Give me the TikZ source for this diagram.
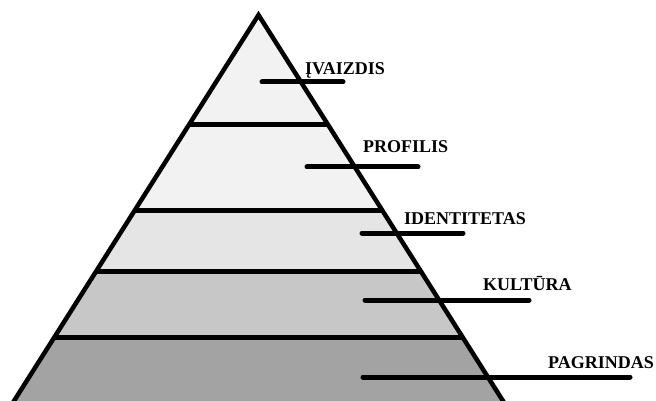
\documentclass[tikz,border=0pt]{standalone}
\usepackage{fontspec}
\setmainfont{Liberation Serif}
\begin{document}
\begin{tikzpicture}[x=1pt,y=-1pt,
  band/.style={draw=none},
  divider/.style={line width=5pt},
  edge/.style={line width=4.5pt,line join=miter},
  pointer/.style={line width=5pt,line cap=round},
  lbl/.style={anchor=base west,inner sep=0pt,font=\fontsize{18}{20}\selectfont\bfseries}]
\useasboundingbox (0,0) rectangle (656,401);
\clip (0,0) rectangle (656,401);
% layer fills, top to bottom
\fill[band,fill=black!5] (258.5,15) -- (328.2,125) -- (188.8,125) -- cycle;
\fill[band,fill=black!5] (188.8,125) -- (328.2,125) -- (382.0,210) -- (135.0,210) -- cycle;
\fill[band,fill=black!10] (135.0,210) -- (382.0,210) -- (420.7,271) -- (96.3,271) -- cycle;
\fill[band,fill=black!22] (96.3,271) -- (420.7,271) -- (462.5,337) -- (54.5,337) -- cycle;
\fill[band,fill=black!36] (54.5,337) -- (462.5,337) -- (504.3,403) -- (12.7,403) -- cycle;
% layer dividers
\draw[divider] (188.8,125) -- (328.2,125);
\draw[divider] (135.0,210) -- (382.0,210);
\draw[divider] (96.3,271) -- (420.7,271);
\draw[divider] (54.5,337) -- (462.5,337);
% outline
\draw[edge] (12.7,403) -- (258.5,15) -- (504.3,403);
% labels
\node[lbl] (l1) at (305,75) {ĮVAIZDIS};
\node[lbl] (l2) at (363,153) {PROFILIS};
\node[lbl] (l3) at (404,224) {IDENTITETAS};
\node[lbl] (l4) at (483,290) {KULTŪRA};
\node[lbl] (l5) at (548,368) {PAGRINDAS};
% pointer lines
\coordinate (p1a) at (262,82);  \coordinate (p1b) at (343,82);
\coordinate (p2a) at (307,167); \coordinate (p2b) at (418,167);
\coordinate (p3a) at (362,233); \coordinate (p3b) at (463,233);
\coordinate (p4a) at (365,300); \coordinate (p4b) at (529,300);
\coordinate (p5a) at (363,377); \coordinate (p5b) at (630,377);
\draw[pointer] (p1a) -- (p1b);
\draw[pointer] (p2a) -- (p2b);
\draw[pointer] (p3a) -- (p3b);
\draw[pointer] (p4a) -- (p4b);
\draw[pointer] (p5a) -- (p5b);
\end{tikzpicture}
\end{document}
